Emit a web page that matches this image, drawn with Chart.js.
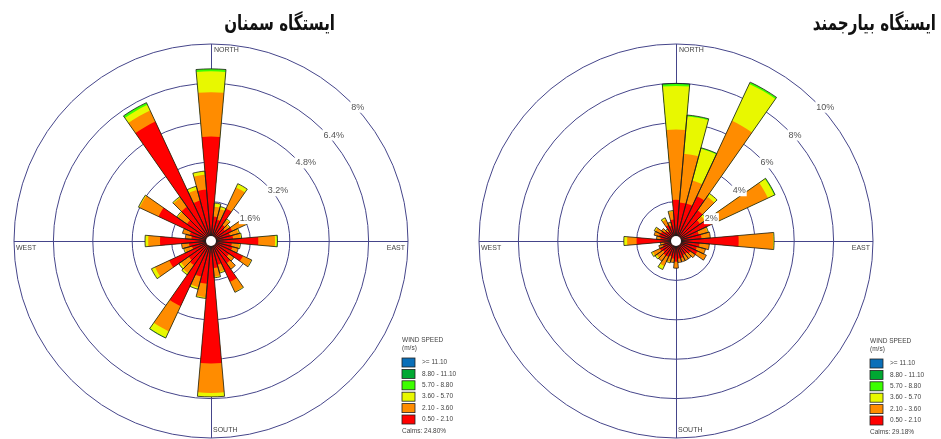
<!DOCTYPE html>
<html>
<head>
<meta charset="utf-8">
<title>Wind roses</title>
<script src="https://cdn.jsdelivr.net/npm/chart.js@4.4.1/dist/chart.umd.min.js"></script>
<style>
  html, body { margin: 0; padding: 0; background: #fff; }
  #wrap { position: relative; width: 941px; height: 439px; overflow: hidden; }
  .rose { position: absolute; top: 0; height: 439px; }
  #semnan { left: 0; width: 470px; }
  #bayarjomand { left: 470px; width: 471px; }
</style>
</head>
<body>
<div id="wrap">
  <div class="rose" id="semnan"><canvas id="chart-semnan"></canvas></div>
  <div class="rose" id="bayarjomand"><canvas id="chart-bayarjomand"></canvas></div>
</div>
<script>
// 10 degree sectors, clockwise from north
const directions = ['0°', '10°', '20°', '30°', '40°', '50°', '60°', '70°', '80°', '90°', '100°', '110°',
  '120°', '130°', '140°', '150°', '160°', '170°', '180°', '190°', '200°', '210°', '220°', '230°',
  '240°', '250°', '260°', '270°', '280°', '290°', '300°', '310°', '320°', '330°', '340°', '350°']

const speedClasses = ['0.50 - 2.10', '2.10 - 3.60', '3.60 - 5.70', '5.70 - 8.80', '8.80 - 11.10', '>= 11.10']
const speedColors = ['#ff0000', '#ff8c00', '#e8f800', '#3cff00', '#00a832', '#0a6fb8']

// Semnan station, % of hours per sector for each speed class
const semnanRed = [4.24, 1.00, 0.90, 1.45, 0.80, 0.70, 0.95, 0.80, 0.90, 1.92, 0.85, 0.90,
  1.43, 0.90, 1.10, 1.83, 1.00, 1.10, 4.97, 1.74, 1.50, 2.92, 1.20, 1.10,
  1.87, 0.80, 0.90, 2.07, 0.80, 0.90, 2.35, 1.20, 1.70, 5.35, 1.70, 2.10]
const semnanOrange = [1.80, 0.40, 0.45, 0.95, 0.25, 0.20, 0.60, 0.35, 0.30, 0.68, 0.30, 0.25,
  0.37, 0.25, 0.30, 0.44, 0.30, 0.35, 1.20, 0.55, 0.45, 1.13, 0.40, 0.40,
  0.64, 0.30, 0.30, 0.48, 0.25, 0.30, 0.85, 0.45, 0.45, 0.50, 0.45, 0.60]
const semnanYellow = [0.85, 0.15, 0.10, 0.17, 0.05, 0.05, 0.10, 0.05, 0.05, 0.07, 0.05, 0,
  0.03, 0, 0, 0.03, 0.05, 0.05, 0.16, 0.05, 0.08, 0.27, 0.08, 0.10,
  0.16, 0.05, 0, 0.13, 0, 0, 0.05, 0.05, 0.05, 0.25, 0.15, 0.15]
const semnanLightGreen = [0.10, 0, 0, 0, 0, 0, 0, 0, 0, 0.03, 0, 0,
  0, 0, 0, 0, 0, 0, 0, 0, 0, 0.03, 0, 0,
  0, 0, 0, 0, 0, 0, 0, 0, 0, 0.10, 0, 0]
const semnanGreen = Array(36).fill(0)
const semnanBlue = Array(36).fill(0)

// Bayarjomand station
const bayarRed = [2.09, 1.96, 1.97, 2.50, 1.90, 1.50, 2.25, 1.20, 1.30, 3.18, 1.20, 1.10,
  1.20, 0.90, 0.80, 0.80, 0.90, 0.90, 1.05, 0.90, 0.80, 0.90, 0.90, 0.80,
  0.90, 0.70, 0.60, 2.00, 0.80, 0.90, 0.85, 0.70, 0.60, 0.90, 0.80, 1.10]
const bayarOrange = [3.57, 2.49, 1.21, 4.23, 0.85, 0.30, 2.90, 0.45, 0.45, 1.75, 0.50, 0.45,
  0.50, 0.30, 0.30, 0.30, 0.20, 0.20, 0.33, 0.20, 0.30, 0.50, 0.35, 0.40,
  0.40, 0.20, 0.20, 0.48, 0.20, 0.25, 0.30, 0.20, 0.15, 0.30, 0.20, 0.40]
const bayarYellow = [2.21, 1.90, 1.67, 2.07, 0.20, 0.12, 0.35, 0.05, 0, 0.05, 0, 0,
  0, 0, 0, 0, 0, 0, 0, 0, 0.05, 0.20, 0, 0.10,
  0.08, 0, 0, 0.17, 0, 0, 0.07, 0, 0, 0.10, 0, 0.05]
const bayarLightGreen = [0.10, 0.07, 0.05, 0.10, 0, 0, 0.05, 0, 0, 0, 0, 0,
  0, 0, 0, 0, 0, 0, 0, 0, 0, 0, 0, 0,
  0, 0, 0, 0, 0, 0, 0, 0, 0, 0, 0, 0]
const bayarGreen = [0.03, 0, 0, 0, 0, 0, 0, 0, 0, 0, 0, 0,
  0, 0, 0, 0, 0, 0, 0, 0, 0, 0, 0, 0,
  0, 0, 0, 0, 0, 0, 0, 0, 0, 0, 0, 0]
const bayarBlue = Array(36).fill(0)

const ringColor = '#45458a'

// stacked wind rose: every class is drawn as an arc reaching its cumulative value,
// larger arcs go underneath the smaller ones
function stackClasses(classes) {
  let running = directions.map(() => 0)
  return classes.map(values => {
    running = running.map((sum, i) => sum + values[i])
    return running.map((sum, i) => values[i] > 0 ? +sum.toFixed(3) : 0)
  })
}

function roseDecorations(station) {
  return {
    id: 'roseDecorations',
    beforeDatasetsDraw(chart) {
      const ctx = chart.ctx
      const r = chart.scales.r
      const R = r.drawingArea
      ctx.save()
      ctx.strokeStyle = ringColor
      ctx.lineWidth = 1
      ctx.beginPath()
      ctx.moveTo(r.xCenter - R, r.yCenter + 0.5)
      ctx.lineTo(r.xCenter + R, r.yCenter + 0.5)
      ctx.moveTo(r.xCenter + 0.5, r.yCenter - R)
      ctx.lineTo(r.xCenter + 0.5, r.yCenter + R)
      ctx.stroke()
      ctx.restore()
    },
    afterDatasetsDraw(chart) {
      const ctx = chart.ctx
      const r = chart.scales.r
      ctx.save()
      // calm hole
      ctx.fillStyle = '#fff'
      ctx.beginPath()
      ctx.arc(r.xCenter, r.yCenter, 5, 0, Math.PI * 2)
      ctx.fill()
      // ring labels along the north-east diagonal
      ctx.font = '9px "Liberation Sans", Arial, sans-serif'
      ctx.textAlign = 'left'
      ctx.textBaseline = 'top'
      r.ticks.forEach(tick => {
        if (tick.value <= 0) return
        const d = r.getDistanceFromCenterForValue(tick.value)
        const x = r.xCenter + d * Math.SQRT1_2 + 1
        const y = r.yCenter - d * Math.SQRT1_2 + 1
        const text = Number(tick.value.toFixed(1)) + '%'
        const w = ctx.measureText(text).width
        ctx.fillStyle = '#fff'
        ctx.fillRect(x - 1, y - 1, w + 2, 11)
        ctx.fillStyle = '#555'
        ctx.fillText(text, x, y)
      })
      ctx.restore()
    },
    afterDraw(chart) {
      const ctx = chart.ctx
      const r = chart.scales.r
      const R = r.drawingArea
      const cx = r.xCenter
      const cy = r.yCenter
      ctx.save()

      // compass words
      ctx.fillStyle = '#444'
      ctx.font = '7px "Liberation Sans", Arial, sans-serif'
      ctx.textBaseline = 'top'
      ctx.textAlign = 'left'
      ctx.fillText('NORTH', cx + 3, cy - R + 3)
      ctx.fillText('WEST', cx - R + 2, cy + 4)
      ctx.textBaseline = 'bottom'
      ctx.fillText('SOUTH', cx + 2, cy + R - 4)
      ctx.textAlign = 'right'
      ctx.textBaseline = 'top'
      ctx.fillText('EAST', cx + R - 3, cy + 4)

      // station title (the original face is narrower than DejaVu, so squeeze it a bit)
      ctx.save()
      ctx.fillStyle = '#111'
      ctx.font = 'bold 21px "DejaVu Sans", sans-serif'
      ctx.direction = 'rtl'
      ctx.textAlign = 'right'
      ctx.textBaseline = 'alphabetic'
      ctx.translate(station.titleX, 30)
      ctx.scale(0.72, 1)
      ctx.fillText(station.title, 0, 0)
      ctx.restore()

      // speed legend
      const lx = station.legendX
      const ly = station.legendY
      ctx.font = '6.5px "Liberation Sans", Arial, sans-serif'
      ctx.textAlign = 'left'
      ctx.textBaseline = 'top'
      ctx.fillStyle = '#444'
      ctx.fillText('WIND SPEED', lx, ly)
      ctx.fillText('(m/s)', lx, ly + 8)
      ctx.textBaseline = 'middle'
      for (let k = speedClasses.length - 1, row = 0; k >= 0; k--, row++) {
        const by = ly + 21 + row * 11.4
        ctx.fillStyle = speedColors[k]
        ctx.fillRect(lx, by, 13, 9)
        ctx.strokeStyle = '#222'
        ctx.lineWidth = 0.8
        ctx.strokeRect(lx, by, 13, 9)
        ctx.fillStyle = '#444'
        ctx.fillText(speedClasses[k], lx + 20, by + 4.5)
      }
      ctx.textBaseline = 'top'
      ctx.fillText('Calms: ' + station.calms, lx, ly + 91)
      ctx.restore()
    }
  }
}

function drawRose(canvasId, station, classes) {
  const stacked = stackClasses(classes)
  const totals = directions.map((d, i) => classes.reduce((sum, values) => sum + values[i], 0))

  const datasets = [{
    label: 'outline',
    data: totals,
    backgroundColor: 'rgba(0,0,0,0)',
    borderColor: '#1c1c1c',
    borderWidth: 0.8
  }].concat(stacked.map((data, k) => ({
    label: speedClasses[k],
    data,
    backgroundColor: speedColors[k],
    borderWidth: 0
  })))

  return new Chart(document.getElementById(canvasId), {
    type: 'polarArea',
    data: { labels: directions, datasets },
    options: {
      animation: false,
      responsive: true,
      maintainAspectRatio: false,
      layout: { padding: station.padding },
      plugins: {
        legend: { display: false },
        tooltip: { enabled: false }
      },
      scales: {
        r: {
          min: 0,
          max: station.max,
          startAngle: -5,
          ticks: { display: false, stepSize: station.step },
          grid: { circular: true, color: ringColor, lineWidth: 1 },
          angleLines: { display: false },
          pointLabels: { display: false }
        }
      }
    },
    plugins: [roseDecorations(station)]
  })
}

drawRose('chart-semnan', {
  title: 'ایستگاه سمنان',
  titleX: 335,
  max: 8,
  step: 1.6,
  calms: '24.80%',
  legendX: 402,
  legendY: 337,
  padding: { left: 14, right: 62, top: 44, bottom: 1 }
}, [semnanRed, semnanOrange, semnanYellow, semnanLightGreen, semnanGreen, semnanBlue])

drawRose('chart-bayarjomand', {
  title: 'ایستگاه بیارجمند',
  titleX: 466,
  max: 10,
  step: 2,
  calms: '29.18%',
  legendX: 400,
  legendY: 338,
  padding: { left: 9, right: 68, top: 44, bottom: 1 }
}, [bayarRed, bayarOrange, bayarYellow, bayarLightGreen, bayarGreen, bayarBlue])
</script>
</body>
</html>
